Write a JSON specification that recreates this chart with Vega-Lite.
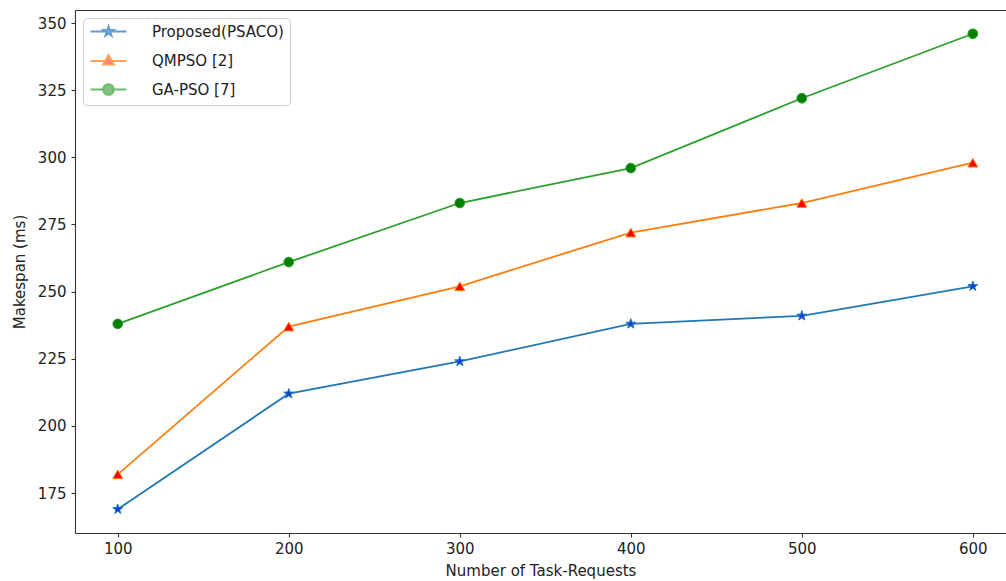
{
  "$schema": "https://vega.github.io/schema/vega-lite/v6.json",
  "width": 931,
  "height": 523,
  "autosize": {"type": "none"},
  "padding": {"left": 75, "top": 10, "right": 0, "bottom": 48},
  "background": "white",
  "config": {
    "view": {"stroke": null},
    "axis": {
      "domainColor": "#333333",
      "domainWidth": 1.1,
      "tickColor": "#333333",
      "tickWidth": 1.1,
      "tickSize": 4,
      "labelFont": "DejaVu Sans",
      "labelFontSize": 15,
      "labelColor": "#222222",
      "titleFont": "DejaVu Sans",
      "titleFontSize": 15,
      "titleFontWeight": "normal",
      "titleColor": "#222222",
      "grid": false
    },
    "legend": {
      "orient": "top-left",
      "offset": 8,
      "labelFont": "DejaVu Sans",
      "labelFontSize": 15,
      "labelColor": "#222222",
      "symbolSize": 144,
      "symbolStrokeWidth": 1.8,
      "rowPadding": 10.5,
      "symbolOffset": 12,
      "labelOffset": 36,
      "padding": 6,
      "strokeColor": "#cccccc",
      "fillColor": "rgba(255,255,255,0.8)",
      "cornerRadius": 4
    }
  },
  "data": {
    "values": [
      {"n": 100, "series": "Proposed(PSACO)", "v": 169},
      {"n": 200, "series": "Proposed(PSACO)", "v": 212},
      {"n": 300, "series": "Proposed(PSACO)", "v": 224},
      {"n": 400, "series": "Proposed(PSACO)", "v": 238},
      {"n": 500, "series": "Proposed(PSACO)", "v": 241},
      {"n": 600, "series": "Proposed(PSACO)", "v": 252},
      {"n": 100, "series": "QMPSO [2]", "v": 182},
      {"n": 200, "series": "QMPSO [2]", "v": 237},
      {"n": 300, "series": "QMPSO [2]", "v": 252},
      {"n": 400, "series": "QMPSO [2]", "v": 272},
      {"n": 500, "series": "QMPSO [2]", "v": 283},
      {"n": 600, "series": "QMPSO [2]", "v": 298},
      {"n": 100, "series": "GA-PSO [7]", "v": 238},
      {"n": 200, "series": "GA-PSO [7]", "v": 261},
      {"n": 300, "series": "GA-PSO [7]", "v": 283},
      {"n": 400, "series": "GA-PSO [7]", "v": 296},
      {"n": 500, "series": "GA-PSO [7]", "v": 322},
      {"n": 600, "series": "GA-PSO [7]", "v": 346}
    ]
  },
  "resolve": {"axis": {"x": "independent"}},
  "layer": [
    {
      "transform": [{"filter": {"field": "series", "equal": "Proposed(PSACO)"}}],
      "mark": {"type": "line", "strokeWidth": 1.8, "color": "#1f77b4"},
      "encoding": {
        "x": {"field": "n", "type": "quantitative", "scale": {"domain": [75, 619.4], "nice": false, "zero": false},
              "axis": {"orient": "bottom", "values": [100, 200, 300, 400, 500, 600], "title": "Number of Task-Requests", "labelPadding": 4, "titlePadding": 7}},
        "y": {"field": "v", "type": "quantitative", "scale": {"domain": [160.15, 354.85], "nice": false, "zero": false},
              "axis": {"values": [175, 200, 225, 250, 275, 300, 325, 350], "title": "Makespan (ms)", "labelPadding": 5, "titlePadding": 10}}
      }
    },
    {
      "transform": [{"filter": {"field": "series", "equal": "QMPSO [2]"}}],
      "mark": {"type": "line", "strokeWidth": 1.8, "color": "#ff7f0e"},
      "encoding": {
        "x": {"field": "n", "type": "quantitative", "axis": null},
        "y": {"field": "v", "type": "quantitative"}
      }
    },
    {
      "transform": [{"filter": {"field": "series", "equal": "GA-PSO [7]"}}],
      "mark": {"type": "line", "strokeWidth": 1.8, "color": "#2ca02c"},
      "encoding": {
        "x": {"field": "n", "type": "quantitative", "axis": null},
        "y": {"field": "v", "type": "quantitative"}
      }
    },
    {
      "transform": [{"filter": {"field": "series", "equal": "Proposed(PSACO)"}}],
      "mark": {"type": "point", "shape": "M0,-1L0.2245,-0.309L0.9511,-0.309L0.3633,0.118L0.5878,0.809L0,0.382L-0.5878,0.809L-0.3633,0.118L-0.9511,-0.309L-0.2245,-0.309Z", "size": 110, "filled": true, "fill": "#0b3fe0", "stroke": "#1f77b4", "strokeWidth": 1, "opacity": 1},
      "encoding": {
        "x": {"field": "n", "type": "quantitative", "axis": {"orient": "top", "labels": false, "ticks": false, "title": null, "domain": true}},
        "y": {"field": "v", "type": "quantitative"}
      }
    },
    {
      "transform": [{"filter": {"field": "series", "equal": "QMPSO [2]"}}],
      "mark": {"type": "point", "shape": "triangle-up", "size": 100, "filled": true, "fill": "#ff0000", "stroke": "#ff7f0e", "strokeWidth": 1, "opacity": 1},
      "encoding": {
        "x": {"field": "n", "type": "quantitative", "axis": null},
        "y": {"field": "v", "type": "quantitative"}
      }
    },
    {
      "transform": [{"filter": {"field": "series", "equal": "GA-PSO [7]"}}],
      "mark": {"type": "point", "shape": "circle", "size": 95, "filled": true, "fill": "#008000", "stroke": "#2ca02c", "strokeWidth": 1, "opacity": 1},
      "encoding": {
        "x": {"field": "n", "type": "quantitative", "axis": null},
        "y": {"field": "v", "type": "quantitative"}
      }
    },
    {
      "transform": [{"filter": {"field": "v", "lt": 0}}],
      "mark": {"type": "point", "filled": true},
      "encoding": {
        "x": {"field": "n", "type": "quantitative", "axis": null},
        "y": {"field": "v", "type": "quantitative"},
        "shape": {"field": "series", "type": "nominal", "title": null,
                  "scale": {"domain": ["Proposed(PSACO)", "QMPSO [2]", "GA-PSO [7]"],
                            "range": [
                              "M-3,0H-0.47M0.47,0H3M0,-0.9L0.2021,-0.2781L0.856,-0.2781L0.327,0.1062L0.529,0.7281L0,0.3438L-0.529,0.7281L-0.327,0.1062L-0.856,-0.2781L-0.2021,-0.2781Z",
                              "M-3,0H-0.58M0.58,0H3M0,-1L0.93,0.6L-0.93,0.6Z",
                              "M-3,0H-0.9M0.9,0H3M0.9,0A0.9,0.9 0 1,1 -0.9,0A0.9,0.9 0 1,1 0.9,0Z"
                            ]}},
        "fill": {"field": "series", "type": "nominal", "title": null,
                 "scale": {"domain": ["Proposed(PSACO)", "QMPSO [2]", "GA-PSO [7]"], "range": ["#0b3fe0", "#ff0000", "#008000"]}},
        "stroke": {"field": "series", "type": "nominal", "title": null,
                   "scale": {"domain": ["Proposed(PSACO)", "QMPSO [2]", "GA-PSO [7]"], "range": ["#1f77b4", "#ff7f0e", "#2ca02c"]}}
      }
    }
  ]
}
